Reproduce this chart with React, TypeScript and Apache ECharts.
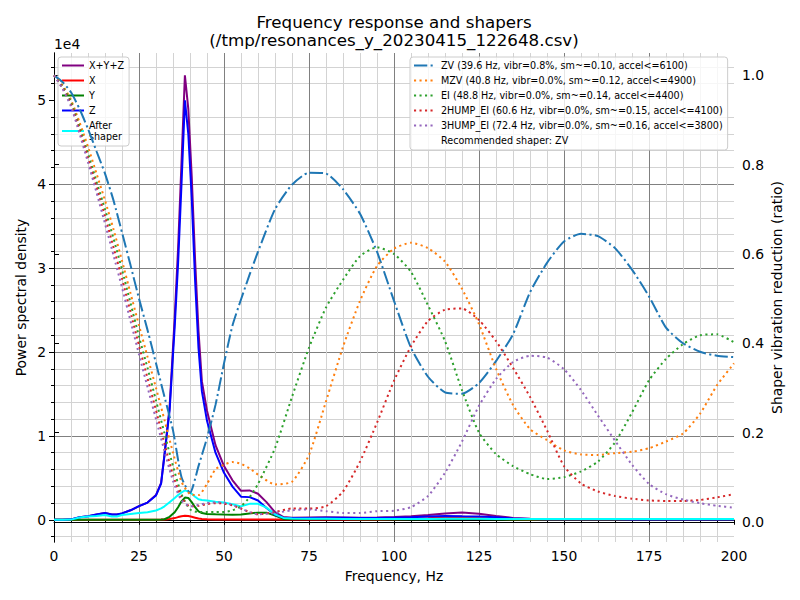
import React, { useEffect, useRef } from 'react';
import * as echarts from 'echarts';

// PSD curves (power spectral density, raw units)
const psdFreqs = [
  0, 2.5, 5, 7.5, 10, 12.5, 15, 17, 18.5, 20, 22.5, 25, 27.5, 30, 31.5, 32.5, 34, 35.5, 36.5, 37.5,
  38.5, 39.5, 40.5, 41.5, 42.5, 43.5, 45, 47.5, 50, 52.5, 55, 57.5, 60, 62.5, 65, 67.5, 70, 75, 80, 85,
  90, 95, 100, 105, 110, 115, 120, 125, 130, 135, 140, 145, 150, 155, 160, 165, 170, 175, 180, 185,
  190, 195, 200,
];
const psdSum = [
  0, 0, 50, 300, 420, 620, 800, 630, 630, 760, 1130, 1620, 2050, 2950, 4400, 7800, 13450, 24100, 32400, 42600,
  53000, 49000, 41000, 31000, 22500, 16500, 13000, 8900, 6400, 4700, 3450, 3500, 3100, 2100, 900, 320, 250, 280, 300, 270,
  240, 260, 330, 420, 560, 750, 870, 720, 460, 220, 110, 80, 70, 70, 70, 70, 60, 60, 50, 50,
  50, 50, 50,
];
const psdX = [
  0, 0, 0, 0, 0, 0, 0, 0, 0, 0, 0, 0, 0, 10, 20, 40, 100, 200, 320, 430,
  480, 450, 350, 250, 150, 100, 60, 40, 30, 30, 30, 30, 30, 30, 30, 20, 20, 20, 30, 30,
  30, 40, 60, 100, 180, 300, 350, 250, 120, 50, 30, 20, 20, 20, 20, 20, 20, 20, 20, 20,
  20, 20, 20,
];
const psdY = [
  0, 0, 0, 0, 0, 0, 0, 0, 0, 0, 0, 0, 0, 0, 20, 60, 350, 900, 1500, 2200,
  2650, 2600, 2100, 1500, 1000, 800, 700, 650, 620, 600, 620, 750, 850, 850, 500, 100, 80, 80, 100, 80,
  60, 50, 60, 60, 70, 80, 100, 80, 60, 40, 30, 20, 20, 20, 20, 20, 20, 20, 20, 20,
  20, 20, 20,
];
const psdZ = [
  0, 0, 50, 300, 420, 620, 800, 630, 630, 760, 1130, 1620, 2050, 2900, 4300, 7700, 13000, 23000, 30600, 40000,
  50000, 46000, 38400, 28500, 20500, 15300, 11800, 8000, 5600, 3950, 2750, 2700, 2300, 1400, 600, 250, 200, 220, 250, 230,
  200, 200, 250, 300, 380, 450, 420, 400, 300, 150, 80, 60, 50, 50, 50, 50, 40, 40, 30, 30,
  30, 30, 30,
];
const psdAfter = [
  0, 0, 20, 260, 380, 460, 560, 380, 400, 560, 700, 800, 900, 1100, 1350, 1600, 2100, 2600, 2950, 3250,
  3500, 3350, 3100, 2750, 2450, 2350, 2300, 2150, 2050, 1850, 1600, 1900, 1900, 1450, 650, 220, 150, 120, 110, 100,
  100, 100, 100, 100, 100, 110, 120, 110, 100, 90, 90, 90, 90, 90, 90, 90, 90, 90, 90, 90,
  90, 90, 90,
];

// shaper response curves (ratio)
const shaperFreqs = [
  0, 2.5, 5, 7.5, 10, 12.5, 15, 17.5, 20, 22.5, 25, 27.5, 30, 32.5, 35, 37.5, 40, 42.5, 45, 47.5,
  50, 52.5, 55, 57.5, 60, 65, 70, 75, 80, 85, 90, 95, 100, 105, 110, 115, 120, 125, 130, 135,
  140, 145, 150, 155, 160, 165, 170, 175, 180, 185, 190, 195, 200,
];
const zvVals = [
  1.0, 0.985, 0.962, 0.925, 0.88, 0.83, 0.78, 0.72, 0.648, 0.575, 0.5, 0.43, 0.355, 0.28, 0.205, 0.1, 0.065, 0.125, 0.188, 0.262,
  0.355, 0.44, 0.498, 0.553, 0.605, 0.7, 0.755, 0.782, 0.78, 0.745, 0.69, 0.605, 0.495, 0.39, 0.325, 0.29, 0.287, 0.311, 0.36, 0.42,
  0.514, 0.58, 0.628, 0.645, 0.64, 0.613, 0.565, 0.505, 0.435, 0.4, 0.381, 0.372, 0.369,
];
const mzvVals = [
  1.0, 0.978, 0.945, 0.895, 0.84, 0.78, 0.72, 0.655, 0.585, 0.512, 0.44, 0.37, 0.3, 0.228, 0.155, 0.09, 0.062, 0.06, 0.085, 0.118,
  0.128, 0.134, 0.13, 0.12, 0.106, 0.084, 0.09, 0.15, 0.27, 0.392, 0.495, 0.573, 0.612, 0.625, 0.613, 0.583, 0.522, 0.443, 0.343, 0.262,
  0.208, 0.183, 0.16, 0.151, 0.15, 0.154, 0.157, 0.165, 0.18, 0.198, 0.242, 0.306, 0.355,
];
const eiVals = [
  1.0, 0.975, 0.94, 0.885, 0.825, 0.762, 0.7, 0.635, 0.565, 0.49, 0.415, 0.345, 0.272, 0.198, 0.125, 0.062, 0.028, 0.022, 0.022, 0.022,
  0.022, 0.026, 0.035, 0.055, 0.085, 0.165, 0.28, 0.39, 0.48, 0.542, 0.595, 0.615, 0.6, 0.56, 0.485, 0.405, 0.295, 0.2, 0.152, 0.125,
  0.107, 0.096, 0.1, 0.113, 0.135, 0.178, 0.245, 0.317, 0.365, 0.398, 0.418, 0.42, 0.402,
];
const hump2Vals = [
  1.0, 0.972, 0.935, 0.878, 0.815, 0.75, 0.685, 0.615, 0.545, 0.47, 0.395, 0.322, 0.25, 0.175, 0.105, 0.055, 0.035, 0.036, 0.04, 0.042,
  0.041, 0.037, 0.03, 0.022, 0.017, 0.022, 0.03, 0.03, 0.035, 0.068, 0.135, 0.222, 0.316, 0.393, 0.45, 0.475, 0.478, 0.452, 0.405, 0.345,
  0.28, 0.205, 0.125, 0.086, 0.068, 0.058, 0.052, 0.048, 0.047, 0.047, 0.049, 0.055, 0.062,
];
const hump3Vals = [
  1.0, 0.97, 0.93, 0.87, 0.805, 0.738, 0.668, 0.597, 0.525, 0.45, 0.375, 0.302, 0.23, 0.158, 0.092, 0.048, 0.035, 0.038, 0.042, 0.044,
  0.043, 0.038, 0.03, 0.022, 0.017, 0.02, 0.026, 0.028, 0.024, 0.02, 0.02, 0.024, 0.025, 0.033, 0.058, 0.11, 0.18, 0.26, 0.32, 0.358,
  0.372, 0.368, 0.342, 0.295, 0.238, 0.182, 0.128, 0.085, 0.062, 0.05, 0.042, 0.036, 0.032,
];

const shaperNames = [
  'ZV (39.6 Hz, vibr=0.8%, sm~=0.10, accel<=6100)',
  'MZV (40.8 Hz, vibr=0.0%, sm~=0.12, accel<=4900)',
  'EI (48.8 Hz, vibr=0.0%, sm~=0.14, accel<=4400)',
  '2HUMP_EI (60.6 Hz, vibr=0.0%, sm~=0.15, accel<=4100)',
  '3HUMP_EI (72.4 Hz, vibr=0.0%, sm~=0.16, accel<=3800)',
];
const recommended = 'Recommended shaper: ZV';

const psdTicks = [0, 10000, 20000, 30000, 40000, 50000];
const ratioTicks = [0, 0.2, 0.4, 0.6, 0.8, 1.0];

const FONT = 'DejaVu Sans';
const DOTTED = [2.1, 3.4];
const DASHDOT = [13.3, 3.3, 2.1, 3.3];

const pairs = (xs: number[], ys: number[]) => xs.map((x, i) => [x, ys[i]]);

const App: React.FC = () => {
  const chartRef = useRef<HTMLDivElement | null>(null);

  useEffect(() => {
    document.body.style.margin = '0';
    if (!chartRef.current) return;
    const chart = echarts.init(chartRef.current, undefined, { renderer: 'svg' });

    const psdLine = (name: string, color: string, vals: number[]) => ({
      name,
      type: 'line',
      xAxisIndex: 0,
      yAxisIndex: 0,
      data: pairs(psdFreqs, vals),
      symbol: 'none',
      showSymbol: false,
      lineStyle: { color, width: 2 },
      itemStyle: { color },
      z: 2,
    });
    const shaperLine = (name: string, color: string, vals: number[], dash: number[]) => ({
      name,
      type: 'line',
      xAxisIndex: 0,
      yAxisIndex: 1,
      data: pairs(shaperFreqs, vals),
      symbol: 'none',
      showSymbol: false,
      smooth: 0.2,
      lineStyle: { color, width: 2, type: dash, cap: 'butt' },
      itemStyle: { color },
      z: 3,
    });

    const axisText = { fontFamily: FONT, fontSize: 13.9, color: '#000' };
    const legendBase = {
      orient: 'vertical',
      itemWidth: 22,
      itemHeight: 10,
      itemGap: 4,
      selectedMode: false,
      backgroundColor: 'rgba(255,255,255,0.8)',
      borderColor: '#cccccc',
      borderWidth: 1,
      borderRadius: 3,
      itemStyle: { opacity: 0 },
      textStyle: { fontFamily: FONT, fontSize: 9.6, color: '#000', lineHeight: 11 },
    };

    const option = {
      animation: false,
      backgroundColor: '#fff',
      textStyle: { fontFamily: FONT },
      grid: { left: 54, right: 66, top: 53, bottom: 58 },
      graphic: [
        {
          type: 'text', x: 394, y: 31,
          style: {
            text: 'Frequency response and shapers\n(/tmp/resonances_y_20230415_122648.csv)',
            fontFamily: FONT, fontSize: 16.7, lineHeight: 18.5, fill: '#000',
            align: 'center', verticalAlign: 'middle', textAlign: 'center', textVerticalAlign: 'middle',
          },
        },
        {
          type: 'text', x: 54, y: 44,
          style: { text: '1e4', fontFamily: FONT, fontSize: 13.9, fill: '#000',
            align: 'left', verticalAlign: 'middle', textAlign: 'left', textVerticalAlign: 'middle' },
        },
      ],
      legend: [
        {
          ...legendBase,
          left: 58,
          top: 57,
          padding: [3, 5, 4, 3],
          z: 1,
          data: ['X+Y+Z', 'X', 'Y', 'Z', 'After\nshaper'],
        },
        {
          ...legendBase,
          left: 410,
          top: 57,
          padding: [3, 5, 4, 3],
          z: 4,
          data: [...shaperNames, recommended],
        },
      ],
      xAxis: [
        {
          type: 'value',
          min: 0,
          max: 200,
          interval: 25,
          name: 'Frequency, Hz',
          nameLocation: 'middle',
          nameGap: 27,
          nameMoveOverlap: false,
          nameTextStyle: axisText,
          axisLine: { show: true, lineStyle: { color: '#000', width: 1 } },
          axisTick: { show: true, length: 5, lineStyle: { color: '#000' } },
          minorTick: { show: true, splitNumber: 5, length: 3, lineStyle: { color: '#000' } },
          axisLabel: { ...axisText, margin: 7 },
          splitLine: { show: true, showMinLine: false, showMaxLine: false, lineStyle: { color: '#808080', width: 1 } },
          minorSplitLine: { show: true, lineStyle: { color: '#d3d3d3', width: 1 } },
        },
        {
          type: 'value',
          position: 'top',
          min: 0,
          max: 200,
          interval: 25,
          axisLine: { show: true, lineStyle: { color: '#000', width: 1 } },
          axisTick: { show: false },
          axisLabel: { show: false },
          splitLine: { show: false },
        },
      ],
      yAxis: [
        {
          type: 'value',
          min: -2650,
          max: 55650,
          name: 'Power spectral density',
          nameLocation: 'middle',
          nameGap: 26,
          nameMoveOverlap: false,
          nameTextStyle: axisText,
          axisLine: { show: true, lineStyle: { color: '#000', width: 1 } },
          axisTick: { show: true, length: 5, customValues: psdTicks, lineStyle: { color: '#000' } },
          minorTick: { show: true, splitNumber: 5, length: 3, lineStyle: { color: '#000' } },
          axisLabel: {
            ...axisText,
            margin: 8,
            customValues: psdTicks,
            formatter: (v: number) => String(Math.round(v / 10000)),
          },
          splitLine: { show: true, showMinLine: false, showMaxLine: false, lineStyle: { color: '#808080', width: 1 } },
          minorSplitLine: { show: true, lineStyle: { color: '#d3d3d3', width: 1 } },
        },
        {
          type: 'value',
          position: 'right',
          min: -0.045,
          max: 1.05,
          name: 'Shaper vibration reduction (ratio)',
          nameLocation: 'middle',
          nameGap: 36,
          nameMoveOverlap: false,
          nameTextStyle: axisText,
          axisLine: { show: true, lineStyle: { color: '#000', width: 1 } },
          axisTick: { show: true, length: 5, customValues: ratioTicks, lineStyle: { color: '#000' } },
          axisLabel: {
            ...axisText,
            margin: 8,
            customValues: ratioTicks,
            formatter: (v: number) => v.toFixed(1),
          },
          splitLine: { show: false },
        },
      ],
      series: [
        psdLine('X+Y+Z', '#800080', psdSum),
        psdLine('X', '#ff0000', psdX),
        psdLine('Y', '#008000', psdY),
        psdLine('Z', '#0000ff', psdZ),
        psdLine('After\nshaper', '#00ffff', psdAfter),
        shaperLine(shaperNames[0], '#1f77b4', zvVals, DASHDOT),
        shaperLine(shaperNames[1], '#ff7f0e', mzvVals, DOTTED),
        shaperLine(shaperNames[2], '#2ca02c', eiVals, DOTTED),
        shaperLine(shaperNames[3], '#d62728', hump2Vals, DOTTED),
        shaperLine(shaperNames[4], '#9467bd', hump3Vals, DOTTED),
        {
          name: recommended,
          type: 'line',
          xAxisIndex: 0,
          yAxisIndex: 1,
          data: [],
          symbol: 'none',
          lineStyle: { color: 'rgba(0,0,0,0)', width: 0 },
          itemStyle: { color: 'rgba(0,0,0,0)' },
        },
      ],
    };

    chart.setOption(option as any);

    return () => {
      chart.dispose();
    };
  }, []);

  return <div ref={chartRef} style={{ width: '800px', height: '600px' }} />;
};

export default App;
